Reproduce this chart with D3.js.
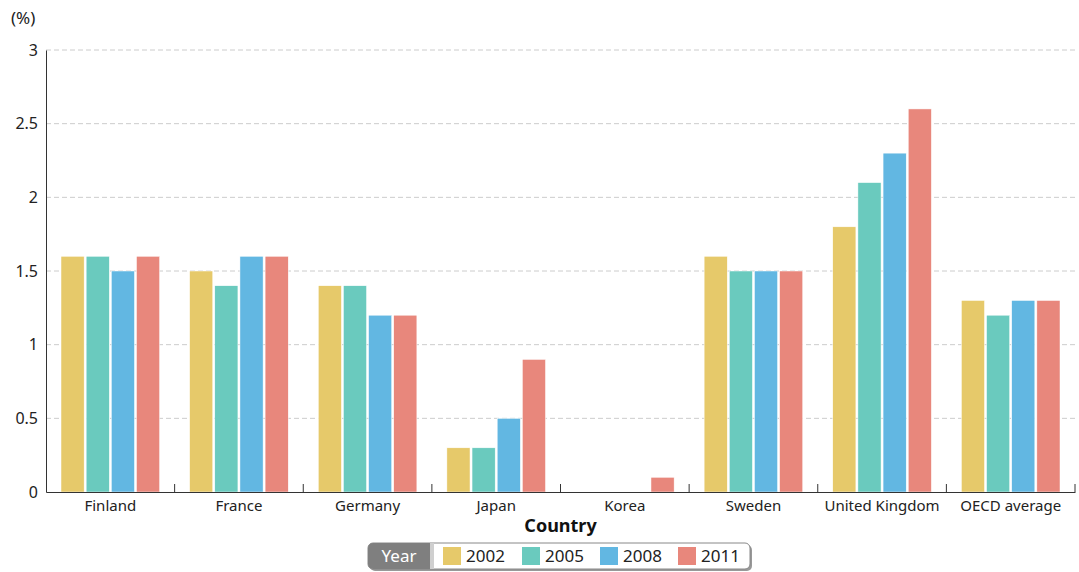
<!DOCTYPE html>
<html><head><meta charset="utf-8">
<script src="https://cdn.jsdelivr.net/npm/d3@7"></script>
<style>
body{margin:0;background:#fff;}
text{font-family:"Noto Sans","Noto Sans CJK KR",sans-serif;}
</style></head>
<body><svg id="c" width="1079" height="572"></svg>
<script>
const countries = ["Finland","France","Germany","Japan","Korea","Sweden","United Kingdom","OECD average"];
const years = ["2002","2005","2008","2011"];
const v2002 = [1.6,1.5,1.4,0.3,0,1.6,1.8,1.3];
const v2005 = [1.6,1.4,1.4,0.3,0,1.5,2.1,1.2];
const v2008 = [1.5,1.6,1.2,0.5,0,1.5,2.3,1.3];
const v2011 = [1.6,1.6,1.2,0.9,0.1,1.5,2.6,1.3];
const yTicks = [0,0.5,1,1.5,2,2.5,3];
const colors = ["#E6C96A","#6ACABE","#62B7E2","#E8877C"];
const series = [v2002,v2005,v2008,v2011];

const svg = d3.select("#c");
const L=46,R=1075,T=50,B=492;
const x = d3.scaleBand().domain(countries).range([L,R]).paddingInner(0).paddingOuter(0);
const x1 = d3.scaleBand().domain(years).range([15, x.bandwidth()-15]).paddingInner(0.08).paddingOuter(0);
const y = d3.scaleLinear().domain([0,3]).range([B,T]);

// grid
svg.append("g").selectAll("line").data(yTicks.filter(d=>d>0)).join("line")
 .attr("x1",L).attr("x2",R).attr("y1",d=>y(d)).attr("y2",d=>y(d))
 .attr("stroke","#cccccc").attr("stroke-dasharray","5,3").attr("stroke-width",1);

// bars
const g = svg.append("g");
countries.forEach((c,i)=>{
  series.forEach((s,j)=>{
    const val = s[i];
    if(val>0){
      g.append("rect").attr("x",x(c)+x1(years[j])).attr("y",y(val))
       .attr("width",x1.bandwidth()).attr("height",B-y(val))
       .attr("fill",colors[j]).attr("stroke","#fff").attr("stroke-width",0.5);
    }
  });
});

// y axis
const ya = svg.append("g").attr("transform",`translate(${L},0)`)
 .call(d3.axisLeft(y).tickValues(yTicks).tickSize(0).tickPadding(8).tickFormat(d=>d3.format("")(d)));
ya.select(".domain").attr("stroke","#333");
ya.selectAll("text").attr("font-size",16).attr("fill","#222");

// x axis
const xa = svg.append("g").attr("transform",`translate(0,${B})`)
 .call(d3.axisBottom(x).tickSize(0).tickPadding(8));
xa.select(".domain").attr("stroke","#333");
xa.selectAll("text").attr("font-size",15).attr("fill","#222");
// boundary ticks
svg.append("g").selectAll("line").data(countries.slice(1).map(c=>x(c)).concat([R])).join("line")
 .attr("x1",d=>d).attr("x2",d=>d).attr("y1",B-8).attr("y2",B).attr("stroke","#333");

svg.append("text").attr("x",11).attr("y",24).attr("font-size",17).attr("fill","#222").text("(%)");
svg.append("text").attr("x",(L+R)/2).attr("y",532).attr("text-anchor","middle")
 .attr("font-size",18).attr("font-weight","bold").attr("fill","#111").text("Country");

// legend
const lg = svg.append("g");
const lx=368, ly=543, lw=382, lh=26;
lg.append("rect").attr("x",lx+2).attr("y",ly+2).attr("width",lw).attr("height",lh).attr("rx",5).attr("fill","#999");
lg.append("rect").attr("x",lx).attr("y",ly).attr("width",lw).attr("height",lh).attr("rx",5).attr("fill","#fff").attr("stroke","#888");
lg.append("path").attr("d",`M${lx+5},${ly} H${lx+62} V${ly+lh} H${lx+5} A5,5 0 0 1 ${lx},${ly+lh-5} V${ly+5} A5,5 0 0 1 ${lx+5},${ly} Z`).attr("fill","#7f7f7f");
lg.append("rect").attr("x",lx+62).attr("y",ly).attr("width",4).attr("height",lh).attr("fill","#cfcfcf");
lg.append("text").attr("x",lx+31).attr("y",ly+19).attr("text-anchor","middle").attr("font-size",17).attr("fill","#fff").text("Year");
const itemX=[lx+75, lx+154, lx+232, lx+310];
years.forEach((yr,j)=>{
  lg.append("rect").attr("x",itemX[j]).attr("y",ly+4).attr("width",18).attr("height",18).attr("fill",colors[j]);
  lg.append("text").attr("x",itemX[j]+23).attr("y",ly+19).attr("font-size",17).attr("fill","#222").text(yr);
});
</script></body></html>
